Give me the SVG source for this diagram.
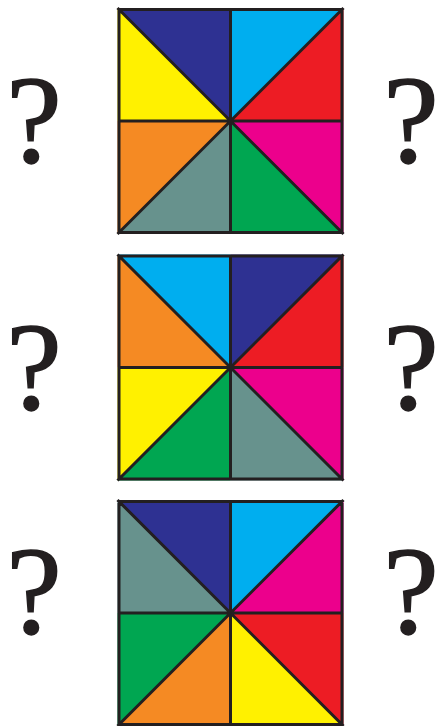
<svg xmlns="http://www.w3.org/2000/svg" width="439" height="726" viewBox="0 0 439 726">
<style>
.navy{fill:#2E3192}.cyan{fill:#00AEEF}.red{fill:#ED1C24}.mag{fill:#EC008C}.green{fill:#00A651}.gray{fill:#67928D}.orange{fill:#F58A23}.yellow{fill:#FFF100}
.ln{fill:none;stroke:#231F20;stroke-width:3;stroke-linejoin:miter}
.q{font-family:"Liberation Serif","Times New Roman",serif;font-size:125px;fill:#231F20;stroke:#231F20;stroke-width:1.5;text-anchor:middle}
</style>
<defs>
<path id="grid" class="ln" d="M1.5 1.5H224.5V224.5H1.5Z M0 0L226 226 M226 0L0 226 M113 0V226 M0 113H226"/>
</defs>
<rect width="439" height="726" fill="#fff"/>
<g id="square1" transform="translate(117.5,8)">
<polygon class="navy" points="0,0 113,0 113,113"/>
<polygon class="yellow" points="0,0 0,113 113,113"/>
<polygon class="cyan" points="113,0 226,0 113,113"/>
<polygon class="red" points="226,0 226,113 113,113"/>
<polygon class="orange" points="0,113 0,226 113,113"/>
<polygon class="gray" points="0,226 113,226 113,113"/>
<polygon class="green" points="113,226 226,226 113,113"/>
<polygon class="mag" points="226,113 226,226 113,113"/>
<use href="#grid"/>
</g>
<g id="square2" transform="translate(117.5,254.5)">
<polygon class="cyan" points="0,0 113,0 113,113"/>
<polygon class="orange" points="0,0 0,113 113,113"/>
<polygon class="navy" points="113,0 226,0 113,113"/>
<polygon class="red" points="226,0 226,113 113,113"/>
<polygon class="yellow" points="0,113 0,226 113,113"/>
<polygon class="green" points="0,226 113,226 113,113"/>
<polygon class="gray" points="113,226 226,226 113,113"/>
<polygon class="mag" points="226,113 226,226 113,113"/>
<use href="#grid"/>
</g>
<g id="square3" transform="translate(117.5,500)">
<polygon class="navy" points="0,0 113,0 113,113"/>
<polygon class="gray" points="0,0 0,113 113,113"/>
<polygon class="cyan" points="113,0 226,0 113,113"/>
<polygon class="mag" points="226,0 226,113 113,113"/>
<polygon class="green" points="0,113 0,226 113,113"/>
<polygon class="orange" points="0,226 113,226 113,113"/>
<polygon class="yellow" points="113,226 226,226 113,113"/>
<polygon class="red" points="226,113 226,226 113,113"/>
<use href="#grid"/>
</g>
<g id="qmarks">
<text class="q" x="34" y="162">?</text>
<text class="q" x="411" y="162">?</text>
<text class="q" x="34" y="409">?</text>
<text class="q" x="411" y="409">?</text>
<text class="q" x="34" y="633">?</text>
<text class="q" x="411" y="633">?</text>
</g>
</svg>
